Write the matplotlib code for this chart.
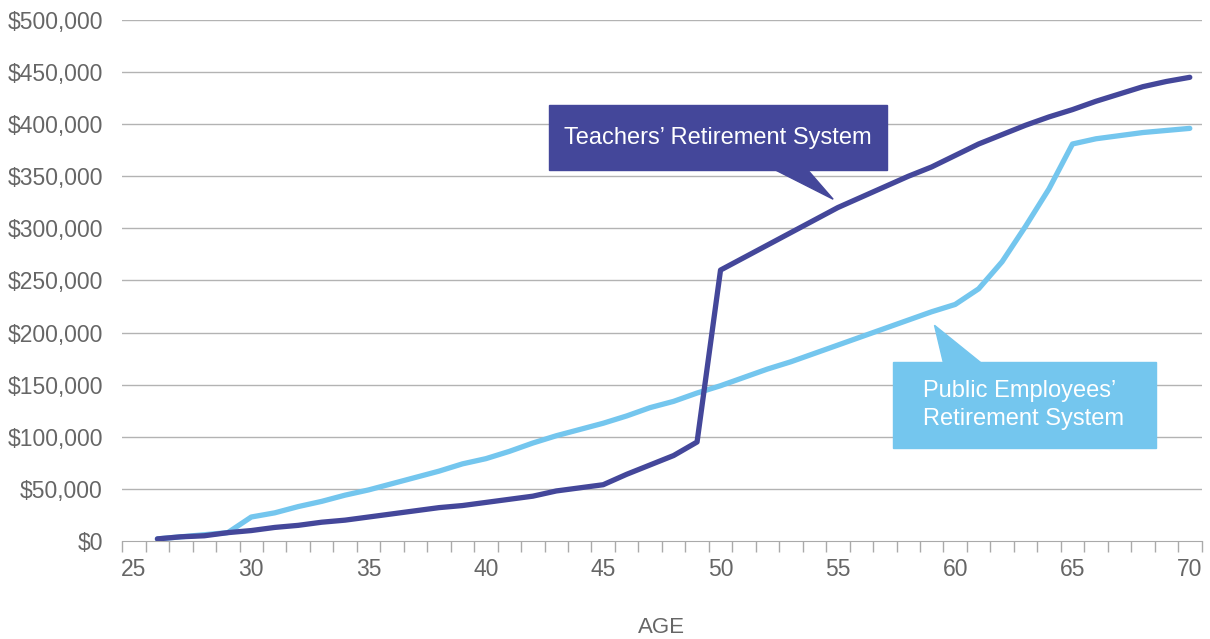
import numpy as np
import matplotlib
matplotlib.use("Agg")
import matplotlib.pyplot as plt
from matplotlib.patches import Polygon, Rectangle
from matplotlib.ticker import FuncFormatter

plt.rcParams['font.family'] = ['Liberation Sans', 'DejaVu Sans']

ages = list(range(26, 71))
trs = [2, 4, 5, 8, 10, 13, 15, 18, 20, 23, 26, 29, 32, 34, 37, 40, 43, 48, 51, 54,
       64, 73, 82, 95, 260, 272, 284, 296, 308, 320, 330, 340, 350, 359, 370, 381,
       390, 399, 407, 414, 422, 429, 436, 441, 445]
pers = [2, 4, 6, 8, 23, 27, 33, 38, 44, 49, 55, 61, 67, 74, 79, 86, 94, 101, 107, 113,
        120, 128, 134, 142, 149, 157, 165, 172, 180, 188, 196, 204, 212, 220, 227, 242,
        268, 302, 338, 381, 386, 389, 392, 394, 396]
trs = np.array(trs) * 1000
pers = np.array(pers) * 1000

dark = '#44479a'
light = '#74c6ee'
grey = '#666666'

fig = plt.figure(figsize=(12.1, 6.39), dpi=100)
ax = fig.add_axes([0.101, 0.1534, 0.892, 0.8153])

for v in range(50000, 500001, 50000):
    ax.axhline(v, color='#b3b3b3', lw=1, zorder=0)

ax.plot(ages, pers, color=light, lw=3.8, solid_capstyle='round', zorder=3)
ax.plot(ages, trs, color=dark, lw=3.8, solid_capstyle='round', zorder=4)

ax.set_xlim(24.5, 70.5)
ax.set_ylim(0, 500000)
ax.set_yticks(range(0, 500001, 50000))
ax.yaxis.set_major_formatter(FuncFormatter(lambda v, p: '${:,.0f}'.format(v)))
ax.set_xticks(range(25, 71, 5))
ax.set_xticks(np.arange(24.5, 71, 1), minor=True)
ax.tick_params(axis='x', which='major', length=0, pad=12, labelsize=16.5, labelcolor=grey)
ax.tick_params(axis='x', which='minor', length=8, color='#aaaaaa', width=1, direction='out')
ax.tick_params(axis='y', length=0, pad=14, labelsize=16.5, labelcolor=grey)
for s in ['top', 'right', 'left']:
    ax.spines[s].set_visible(False)
ax.spines['bottom'].set_color('#aaaaaa')
ax.set_xlabel('AGE', fontsize=16, color=grey, labelpad=26)

# callout: Teachers' Retirement System
ax.add_patch(Rectangle((42.67, 356000), 14.41, 62400, color=dark, zorder=5, clip_on=False))
ax.add_patch(Polygon([(52.3, 356500), (53.7, 356500), (54.8, 328000)], closed=True,
                     color=dark, zorder=5))
ax.text(49.87, 387000, 'Teachers\u2019 Retirement System', color='white', fontsize=17,
        ha='center', va='center', zorder=6)

# callout: Public Employees' Retirement System
ax.add_patch(Rectangle((57.33, 89300), 11.23, 82500, color=light, zorder=5))
ax.add_patch(Polygon([(59.5, 171000), (61.1, 171000), (59.12, 207000)], closed=True,
                     color=light, zorder=5))
ax.text(58.64, 130500, 'Public Employees\u2019\nRetirement System', color='white',
        fontsize=17, ha='left', va='center', multialignment='left',
        linespacing=1.3, zorder=6)

fig.savefig('out.png', dpi=100)
